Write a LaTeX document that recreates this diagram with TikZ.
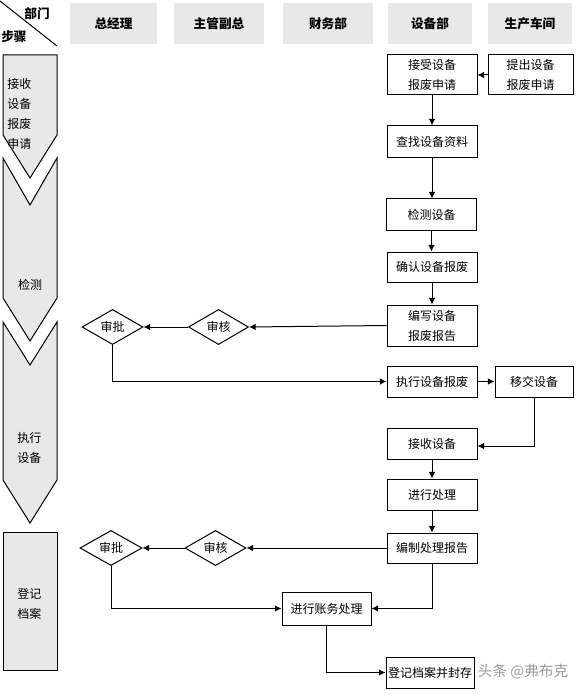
\documentclass[tikz,border=0pt]{standalone}
\usepackage{fontspec}
\setmainfont{Noto Sans CJK SC}
\usetikzlibrary{arrows.meta,shapes.geometric}
\definecolor{hdrgray}{HTML}{E8E8E8}
\begin{document}
\begin{tikzpicture}[x=0.75pt,y=-0.75pt,
  box/.style={draw, line width=0.75pt, fill=white, inner sep=0pt, align=center,
    font=\fontsize{9}{15}\selectfont},
  dia/.style={draw, diamond, inner sep=0pt, line width=0.75pt, fill=white,
    font=\fontsize{9}{11}\selectfont},
  arr/.style={-{Latex[length=5pt,width=5pt]}, line width=0.75pt},
  ln/.style={line width=0.75pt},
  hdr/.style={fill=hdrgray, inner sep=0pt, font=\bfseries\fontsize{9.5}{12}\selectfont},
  lane/.style={draw, fill=hdrgray, line width=0.75pt},
  lanetext/.style={anchor=west, align=left, inner sep=0pt, font=\fontsize{9}{15}\selectfont},
]
\useasboundingbox (0,0) rectangle (582,695);

% ---- header ----
\draw[ln] (0,1) -- (57,46);
\node[font=\bfseries\fontsize{9.5}{12}\selectfont, inner sep=0pt] (bumen) at (37,14) {部门};
\node[font=\bfseries\fontsize{9.5}{12}\selectfont, inner sep=0pt] (buzhou) at (14,37) {步骤};
\node[hdr, minimum width=65.25pt, minimum height=30.75pt] (h1) at (113.5,23.5) {总经理};
\node[hdr, minimum width=67.5pt, minimum height=30.75pt] (h2) at (219,23.5) {主管副总};
\node[hdr, minimum width=67.5pt, minimum height=30.75pt] (h3) at (328,23.5) {财务部};
\node[hdr, minimum width=63pt, minimum height=30.75pt] (h4) at (430,23.5) {设备部};
\node[hdr, minimum width=63pt, minimum height=30.75pt] (h5) at (530,23.5) {生产车间};

% ---- left step lanes ----
\draw[lane] (3,55) -- (57,55) -- (57,135) -- (30,178) -- (3,135) -- cycle;
\draw[lane] (3,158) -- (30,205) -- (57,158) -- (57,298) -- (30,341) -- (3,298) -- cycle;
\draw[lane] (3,322) -- (30,365) -- (57,322) -- (57,480) -- (30,523) -- (3,480) -- cycle;
\draw[lane] (3,532) rectangle (57,670);
\node[lanetext] (s1) at (7,114) {接收\\设备\\报废\\申请};
\node[inner sep=0pt, font=\fontsize{9}{15}\selectfont] (s2) at (30,285) {检测};
\node[lanetext] (s3) at (17,447.5) {执行\\设备};
\node[lanetext] (s4) at (17,604) {登记\\档案};

% ---- process boxes ----
\node[box, minimum width=67.5pt, minimum height=30pt] (jieshou) at (432,75) {接受设备\\报废申请};
\node[box, minimum width=63.75pt, minimum height=30pt] (tichu) at (530.5,75) {提出设备\\报废申请};
\node[box, minimum width=67.5pt, minimum height=24pt] (chazhao) at (432,142) {查找设备资料};
\node[box, minimum width=67.5pt, minimum height=23.25pt] (jiance) at (431.5,214.5) {检测设备};
\node[box, minimum width=67.5pt, minimum height=22.5pt] (queren) at (432,267) {确认设备报废};
\node[box, minimum width=67.5pt, minimum height=30.75pt] (bianxie) at (432,325.5) {编写设备\\报废报告};
\node[box, minimum width=67.5pt, minimum height=23.25pt] (zhixing) at (432,381.5) {执行设备报废};
\node[box, minimum width=58.5pt, minimum height=23.25pt] (yijiao) at (534,381.5) {移交设备};
\node[box, minimum width=67.5pt, minimum height=23.25pt] (jieshou2) at (432,443.5) {接收设备};
\node[box, minimum width=67.5pt, minimum height=23.25pt] (chuli) at (432,494.5) {进行处理};
\node[box, minimum width=67.5pt, minimum height=22.5pt] (bianzhi) at (432,548) {编制处理报告};
\node[box, minimum width=66.75pt, minimum height=24.75pt] (zhangwu) at (326.5,608.5) {进行账务处理};
\node[box, minimum width=66pt, minimum height=23.25pt] (dengji) at (430,672.5) {登记档案并封存};

% ---- decisions ----
\node[dia, minimum width=45.75pt, minimum height=23.25pt] (shenpi1) at (112.5,327) {审批};
\node[dia, minimum width=45pt, minimum height=24pt] (shenhe1) at (218.5,327) {审核};
\node[dia, minimum width=46.5pt, minimum height=24pt] (shenpi2) at (111,548) {审批};
\node[dia, minimum width=45.75pt, minimum height=24pt] (shenhe2) at (215.5,548) {审核};

% ---- connectors ----
\draw[arr] (tichu.west) -- (jieshou.east);
\draw[arr] (jieshou.south) -- (chazhao.north);
\draw[arr] (chazhao.south) -- (chazhao.south |- jiance.north);
\draw[arr] (jiance.south) -- (jiance.south |- queren.north);
\draw[arr] (queren.south) -- (bianxie.north);
\draw[arr] (bianxie.west) -- (shenhe1.east);
\draw[arr] (shenhe1.west) -- (shenpi1.east);
\draw[arr] (shenpi1.south) |- (zhixing.west);
\draw[arr] (zhixing.east) -- (yijiao.west);
\coordinate (yjturn) at (534,446);
\draw[arr] (yijiao.south) -- (yjturn) -- (jieshou2.east |- yjturn);
\draw[arr] (jieshou2.south) -- (chuli.north);
\draw[arr] (chuli.south) -- (bianzhi.north);
\draw[arr] (bianzhi.west) -- (shenhe2.east);
\draw[arr] (shenhe2.west) -- (shenpi2.east);
\draw[arr] (shenpi2.south) |- (zhangwu.west);
\draw[arr] (bianzhi.south) |- (zhangwu.east);
\draw[arr] (zhangwu.south) |- (dengji.west);

% ---- watermark ----
\node[text=gray!80, inner sep=0pt, font=\fontsize{11}{13}\selectfont] (wm) at (523,672) {头条 @弗布克};
\end{tikzpicture}
\end{document}
